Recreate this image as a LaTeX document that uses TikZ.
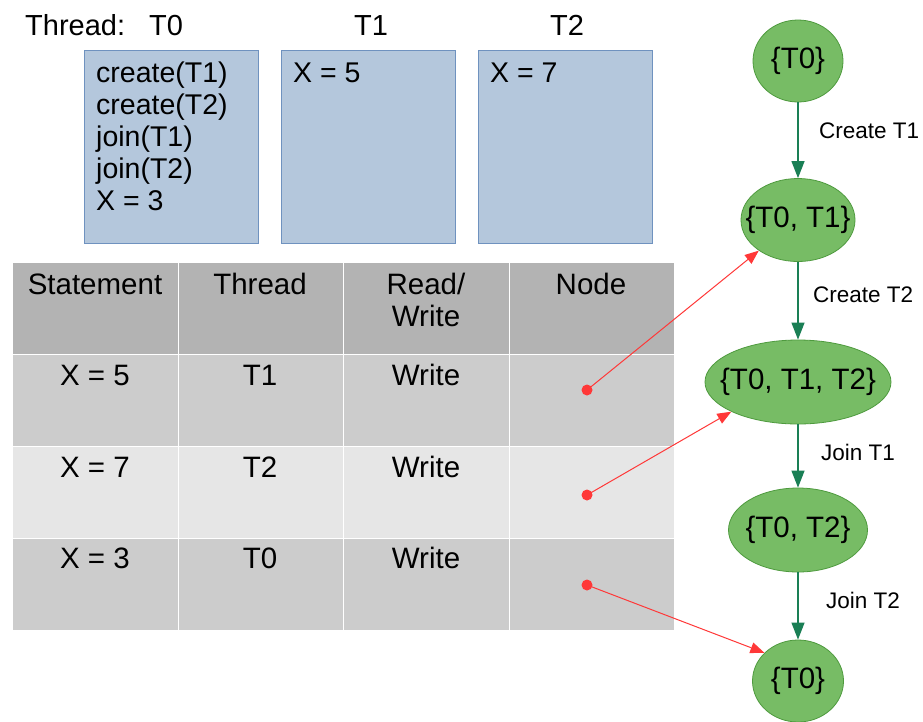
\documentclass[tikz,border=0pt]{standalone}
\usepackage{fontspec}
\setmainfont{Liberation Sans}
\usetikzlibrary{shapes.geometric,arrows.meta}
\definecolor{boxfill}{HTML}{B4C7DC}
\definecolor{boxline}{HTML}{6F92BF}
\definecolor{gfill}{HTML}{77BC65}
\definecolor{gline}{HTML}{4E9A3E}
\definecolor{garrow}{HTML}{1A7F55}
\definecolor{rline}{HTML}{FF3838}
\definecolor{hdr}{HTML}{B3B3B3}
\definecolor{rowa}{HTML}{CCCCCC}
\definecolor{rowb}{HTML}{E6E6E6}
\tikzset{
  threadbox/.style={draw=boxline, line width=1pt, fill=boxfill, anchor=north west, inner sep=0, minimum width=174pt, minimum height=193pt},
  boxtext/.style={anchor=base west, inner sep=0, font=\fontsize{28.5}{32}\selectfont},
  titletext/.style={anchor=base, inner sep=0, font=\fontsize{29}{32}\selectfont},
  cell/.style={draw=white, line width=1.2pt, anchor=north west, inner sep=0, minimum width=165.5pt, minimum height=92pt},
  celltext/.style={anchor=base, inner sep=0, font=\fontsize{29.5}{33}\selectfont, align=center},
  setnode/.style={ellipse, draw=gline, line width=0.8pt, fill=gfill, inner sep=0},
  settext/.style={inner sep=0, font=\fontsize{29.5}{32}\selectfont},
  garr/.style={draw=garrow, line width=1.2pt, -{Triangle[length=17pt,width=13pt]}},
  elabel/.style={anchor=base west, inner sep=0, font=\fontsize{22.5}{24}\selectfont},
  rdot/.style={circle, fill=rline, inner sep=0, minimum size=11pt},
  rarr/.style={draw=rline, line width=1pt, -{Triangle[length=14pt,width=11pt]}}
}
\begin{document}
\begin{tikzpicture}[x=1pt,y=-1pt]
\useasboundingbox[fill=white] (0,0) rectangle (923,721);
% thread titles
\node[anchor=base west, inner sep=0, font=\fontsize{29}{32}\selectfont] (ttl) at (25,35) {Thread:};
\node[titletext] (t0) at (166,35) {T0};
\node[titletext] (t1) at (371,35) {T1};
\node[titletext] (t2) at (567,35) {T2};
% thread boxes
\node[threadbox] (b0) at (84,50) {};
\node[threadbox] (b1) at (281,50) {};
\node[threadbox] (b2) at (478,50) {};
\node[boxtext] (c1) at (96,82) {create(T1)};
\node[boxtext] (c2) at (96,114) {create(T2)};
\node[boxtext] (c3) at (96,146) {join(T1)};
\node[boxtext] (c4) at (96,178) {join(T2)};
\node[boxtext] (c5) at (96,210) {X = 3};
\node[boxtext] (x5) at (293,82) {X = 5};
\node[boxtext] (x7) at (490,82) {X = 7};
% table
\node[cell, fill=hdr] (h1) at (12,262) {};
\node[cell, fill=hdr] (h2) at (177.5,262) {};
\node[cell, fill=hdr] (h3) at (343,262) {};
\node[cell, fill=hdr] (h4) at (508.5,262) {};
\node[cell, fill=rowa] (a1) at (12,354) {};
\node[cell, fill=rowa] (a2) at (177.5,354) {};
\node[cell, fill=rowa] (a3) at (343,354) {};
\node[cell, fill=rowa] (a4) at (508.5,354) {};
\node[cell, fill=rowb] (b1r) at (12,446) {};
\node[cell, fill=rowb] (b2r) at (177.5,446) {};
\node[cell, fill=rowb] (b3r) at (343,446) {};
\node[cell, fill=rowb] (b4r) at (508.5,446) {};
\node[cell, fill=rowa] (c1r) at (12,538) {};
\node[cell, fill=rowa] (c2r) at (177.5,538) {};
\node[cell, fill=rowa] (c3r) at (343,538) {};
\node[cell, fill=rowa] (c4r) at (508.5,538) {};
\node[celltext] (ht1) at (95,294) {Statement};
\node[celltext] (ht2) at (260,294) {Thread};
\node[celltext] (ht3) at (426,294) {Read/};
\node[celltext] (ht3b) at (426,326) {Write};
\node[celltext] (ht4) at (591,294) {Node};
\node[celltext] (r1a) at (95,385) {X = 5};
\node[celltext] (r1b) at (260,385) {T1};
\node[celltext] (r1c) at (426,385) {Write};
\node[celltext] (r2a) at (95,477) {X = 7};
\node[celltext] (r2b) at (260,477) {T2};
\node[celltext] (r2c) at (426,477) {Write};
\node[celltext] (r3a) at (95,568) {X = 3};
\node[celltext] (r3b) at (260,568) {T0};
\node[celltext] (r3c) at (426,568) {Write};
% graph
\node[setnode, minimum width=90pt, minimum height=82pt] (n1) at (798,61) {};
\node[setnode, minimum width=114pt, minimum height=83pt] (n2) at (798,220) {};
\node[setnode, minimum width=186pt, minimum height=84pt] (n3) at (798,382) {};
\node[setnode, minimum width=139pt, minimum height=84pt] (n4) at (798,530) {};
\node[setnode, minimum width=91pt, minimum height=82pt] (n5) at (798,681) {};
\node[settext] (s1) at (n1) {\{T0\}};
\node[settext] (s2) at (n2) {\{T0, T1\}};
\node[settext] (s3) at (n3) {\{T0, T1, T2\}};
\node[settext] (s4) at (n4) {\{T0, T2\}};
\node[settext] (s5) at (n5) {\{T0\}};
\draw[garr] (n1) -- (n2);
\draw[garr] (n2) -- (n3);
\draw[garr] (n3) -- (n4);
\draw[garr] (n4) -- (n5);
\node[elabel] (l1) at (819,138) {Create T1};
\node[elabel] (l2) at (813,302) {Create T2};
\node[elabel] (l3) at (821,460) {Join T1};
\node[elabel] (l4) at (826,608) {Join T2};
% red links
\node[rdot] (d1) at (587,390) {};
\node[rdot] (d2) at (587,495) {};
\node[rdot] (d3) at (587,585) {};
\draw[rarr] (d1.center) -- (n2.218);
\draw[rarr] (d2.center) -- (n3.204);
\draw[rarr] (d3.center) -- (n5.140);
\end{tikzpicture}
\end{document}
